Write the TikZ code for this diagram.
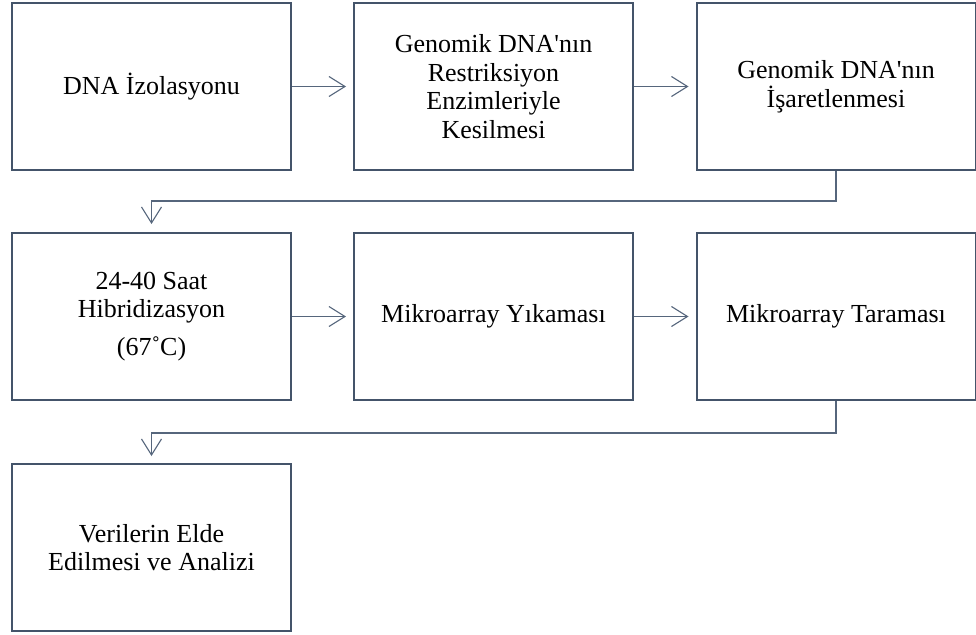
\documentclass[tikz,border=0pt]{standalone}
\usepackage{fontspec}
\setmainfont{Liberation Serif}
\usetikzlibrary{arrows.meta}
\definecolor{boxc}{HTML}{44546A}
\definecolor{arrc}{HTML}{56667C}
\tikzset{
  stepbox/.style={draw=boxc, line width=2pt, minimum width=279pt, minimum height=167pt,
    inner sep=0pt, align=center, font=\fontsize{26}{28.5}\selectfont},
  arr/.style={draw=arrc, line width=1.1pt, -{Straight Barb[length=16pt,width=20pt,line width=1.1pt]}},
}
\begin{document}
\begin{tikzpicture}[x=1pt,y=-1pt]
\useasboundingbox (0,0) rectangle (976,634);
\node[stepbox] (b1) at (151.5,86.5) {DNA İzolasyonu};
\node[stepbox] (b2) at (493.5,86.5) {Genomik DNA\textquotesingle nın\\Restriksiyon\\Enzimleriyle\\Kesilmesi};
\node[stepbox] (b3) at (836,86.5) {Genomik DNA\textquotesingle nın\\İşaretlenmesi};
\node[stepbox] (b4) at (151.5,316.5) {24-40 Saat\\Hibridizasyon\\[9pt](67˚C)};
\node[stepbox] (b5) at (493.5,316.5) {Mikroarray Yıkaması};
\node[stepbox] (b6) at (836,316.5) {Mikroarray Taraması};
\node[stepbox] (b7) at (151.5,547.5) {Verilerin Elde\\Edilmesi ve Analizi};
\draw[arr, shorten >=7pt] (b1.east) -- (b2.west);
\draw[arr, shorten >=7pt] (b2.east) -- (b3.west);
\draw[arr, shorten >=7pt] (b4.east) -- (b5.west);
\draw[arr, shorten >=7pt] (b5.east) -- (b6.west);
\draw[arr, shorten >=8pt] (b3.south) -- ++(0,30) -| (b4.north);
\draw[arr, shorten >=7pt] (b6.south) -- ++(0,32) -| (b7.north);
\end{tikzpicture}
\end{document}
